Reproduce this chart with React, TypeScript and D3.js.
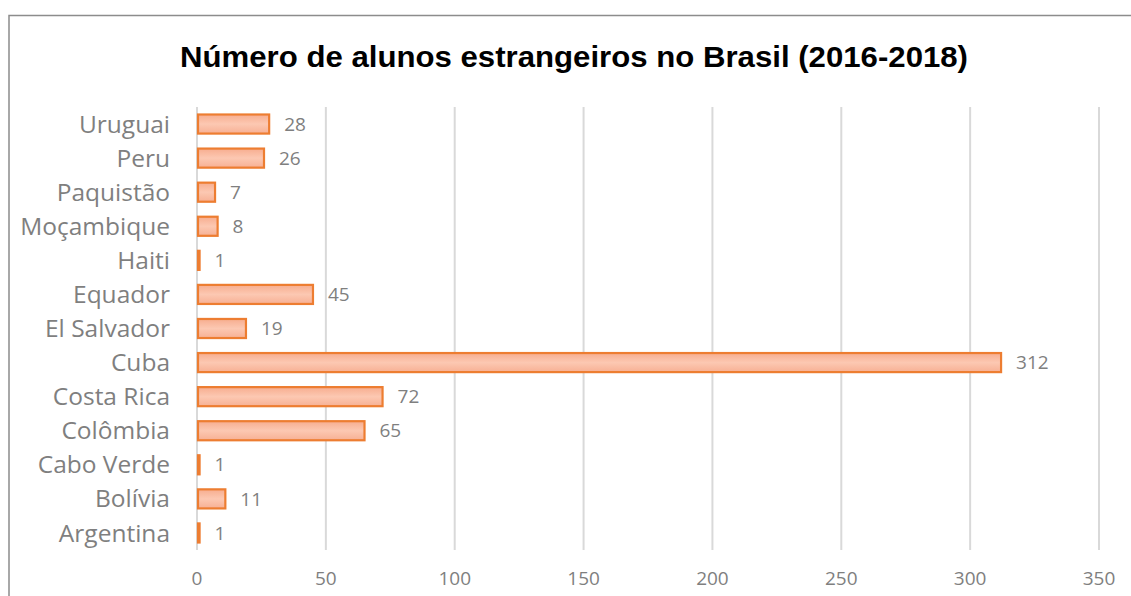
import React from "react";
import * as d3 from "d3";

const categories = ["Uruguai", "Peru", "Paquistão", "Moçambique", "Haiti", "Equador", "El Salvador", "Cuba", "Costa Rica", "Colômbia", "Cabo Verde", "Bolívia", "Argentina"];
const values = [28, 26, 7, 8, 1, 45, 19, 312, 72, 65, 1, 11, 1];
const xTicks = [0, 50, 100, 150, 200, 250, 300, 350];
const title = "Número de alunos estrangeiros no Brasil (2016-2018)";

const W = 1131;
const H = 596;
const textColor = "#7f7f7f";
const font = "'Open Sans', sans-serif";

export default function App() {
  const x = d3.scaleLinear().domain([0, 350]).range([197, 1099]);
  const y = d3.scaleBand<string>().domain(categories).range([107, 550]).paddingInner(0.44).paddingOuter(0.22);
  const bh = y.bandwidth();

  return (
    <div style={{ position: "absolute", left: 0, top: 0 }}>
      <svg width={W} height={H} style={{ display: "block", background: "#fff" }}>
        <defs>
          <linearGradient id="barGrad" x1="0" y1="0" x2="0" y2="1">
            <stop offset="0" stopColor="#f7ad8f" />
            <stop offset="0.5" stopColor="#fcc8b2" />
            <stop offset="1" stopColor="#f7b094" />
          </linearGradient>
        </defs>
        <rect x={0} y={0} width={W} height={H} fill="#fff" />
        <rect x={9} y={15.5} width={W + 20} height={H + 20} fill="none" stroke="#8c8c8c" strokeWidth={1.5} />
        <text x={180} y={67} textAnchor="start" fontFamily="'Liberation Sans', Arial, sans-serif" fontWeight="bold" fontSize={29} textLength={788} lengthAdjust="spacingAndGlyphs" fill="#000">
          {title}
        </text>
        {xTicks.map((t) => (
          <g key={t}>
            <line x1={x(t)} x2={x(t)} y1={107} y2={550} stroke="#d9d9d9" strokeWidth={2} />
            <text x={x(t)} y={585} textAnchor="middle" fontFamily={font} fontSize={19} fill={textColor}>
              {t}
            </text>
          </g>
        ))}
        {categories.map((c, i) => {
          const yy = y(c)!;
          const cy = yy + bh / 2;
          return (
            <g key={c}>
              <rect x={x(0) + 1} y={yy} width={Math.max(0, x(values[i]) - x(0) - 1)} height={bh} fill="url(#barGrad)" stroke="#ed7d31" strokeWidth={2.2} />
              <text x={170} y={cy} dy="0.35em" textAnchor="end" fontFamily={font} fontSize={24.5} fill={textColor}>
                {c}
              </text>
              <text x={x(values[i]) + 15} y={cy} dy="0.35em" textAnchor="start" fontFamily={font} fontSize={19} fill={textColor}>
                {values[i]}
              </text>
            </g>
          );
        })}
      </svg>
    </div>
  );
}
